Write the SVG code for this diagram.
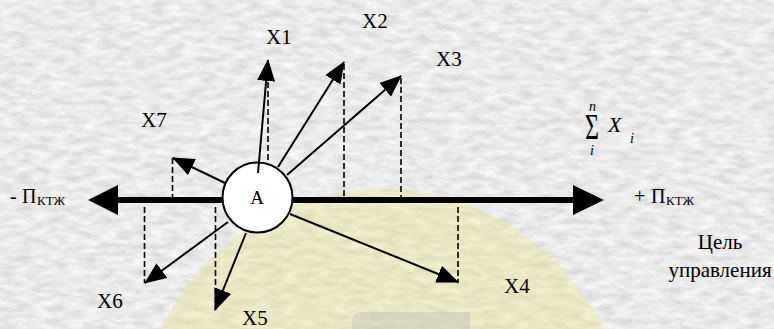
<svg xmlns="http://www.w3.org/2000/svg" width="774" height="329" viewBox="0 0 774 329">
  <style>
    text { font-family: "Liberation Serif", "DejaVu Serif", "Times New Roman", serif; fill: #000; }
    .lbl { font-size: 21px; }
    .sub { font-size: 13px; }
    .mi { font-style: italic; }
    .vec { stroke: #000; stroke-width: 2; fill: none; marker-end: url(#head); }
    .dash { stroke: #000; stroke-width: 1.6; stroke-dasharray: 6 3; fill: none; }
  </style>
  <defs>
    <filter id="paper" x="0" y="0" width="774" height="329" filterUnits="userSpaceOnUse">
      <feTurbulence type="fractalNoise" baseFrequency="0.06 0.16" numOctaves="3" seed="7"/>
      <feColorMatrix type="matrix" values="0.36 0 0 0 0.64  0.36 0 0 0 0.64  0.36 0 0 0 0.64  0 0 0 0 1"/>
    </filter>
    <marker id="head" markerUnits="userSpaceOnUse" markerWidth="22" markerHeight="18" viewBox="0 0 22 18" refX="21" refY="9" orient="auto">
      <path d="M0,0 L22,9 L0,18 Z" fill="#000"/>
    </marker>
  </defs>

  <g id="background">
    <rect x="0" y="0" width="774" height="329" fill="#d2d2d2"/>
    <rect x="0" y="0" width="774" height="329" filter="url(#paper)"/>
    <circle cx="382" cy="434" r="245" fill="rgb(236,231,136)" fill-opacity="0.38"/>
    <path d="M352,340 L352,322 Q352,312 362,312 L470,312 L470,340 Z" fill="#b8b8b8" fill-opacity="0.4"/>
  </g>

  <g id="axis">
    <line x1="116" y1="200" x2="575" y2="200" stroke="#000" stroke-width="6"/>
    <polygon points="88,200 118,185 118,215" fill="#000"/>
    <polygon points="604,200 573,185 573,215" fill="#000"/>
  </g>

  <g id="connectors">
    <line class="dash" x1="268" y1="82" x2="268" y2="163"/>
    <line class="dash" x1="344" y1="64" x2="344" y2="197"/>
    <line class="dash" x1="401" y1="78" x2="401" y2="197"/>
    <line class="dash" x1="172.5" y1="158" x2="172.5" y2="197"/>
    <line class="dash" x1="144.5" y1="207" x2="144.5" y2="283"/>
    <line class="dash" x1="215.5" y1="207" x2="215.5" y2="310"/>
    <line class="dash" x1="458" y1="207" x2="458" y2="283"/>
  </g>

  <g id="node-A">
    <circle cx="257.5" cy="197.5" r="35" fill="#fff" stroke="#000" stroke-width="2"/>
    <text x="257" y="204" font-size="19" text-anchor="middle">A</text>
  </g>

  <g id="vectors">
    <line class="vec" x1="258" y1="173" x2="268" y2="60"/>
    <line class="vec" x1="278" y1="167" x2="344" y2="62"/>
    <line class="vec" x1="287" y1="175" x2="401" y2="76"/>
    <line class="vec" x1="225" y1="183" x2="173" y2="158"/>
    <line class="vec" x1="228" y1="222" x2="145" y2="283"/>
    <line class="vec" x1="246" y1="233" x2="215" y2="310"/>
    <line class="vec" x1="290" y1="214" x2="458" y2="282"/>
  </g>

  <g id="labels">
    <text class="lbl" x="266" y="44">X1</text>
    <text class="lbl" x="362" y="28">X2</text>
    <text class="lbl" x="436" y="66">X3</text>
    <text class="lbl" x="504" y="293">X4</text>
    <text class="lbl" x="242" y="325">X5</text>
    <text class="lbl" x="97" y="308">X6</text>
    <text class="lbl" x="141" y="127">X7</text>
  </g>

  <g id="label-minus">
    <text x="10" y="203" font-size="20">-</text>
    <text x="22" y="203" font-size="20">П</text>
    <text class="sub" x="37" y="205">КТЖ</text>
  </g>

  <g id="label-plus">
    <text x="634" y="203" font-size="20">+</text>
    <text x="651" y="203" font-size="20">П</text>
    <text class="sub" x="666" y="205">КТЖ</text>
  </g>

  <g id="label-goal">
    <text x="720" y="249" font-size="21" text-anchor="middle">Цель</text>
    <text x="720" y="277" font-size="21" text-anchor="middle">управления</text>
  </g>

  <g id="sum">
    <text class="mi" x="589" y="111" font-size="14">n</text>
    <text transform="translate(585,139) scale(1,1.5)" font-size="24">Σ</text>
    <text class="mi" x="590" y="155" font-size="14">i</text>
    <text class="mi" x="608" y="132" font-size="22">X</text>
    <text class="mi" x="630" y="143" font-size="14">i</text>
  </g>
</svg>
